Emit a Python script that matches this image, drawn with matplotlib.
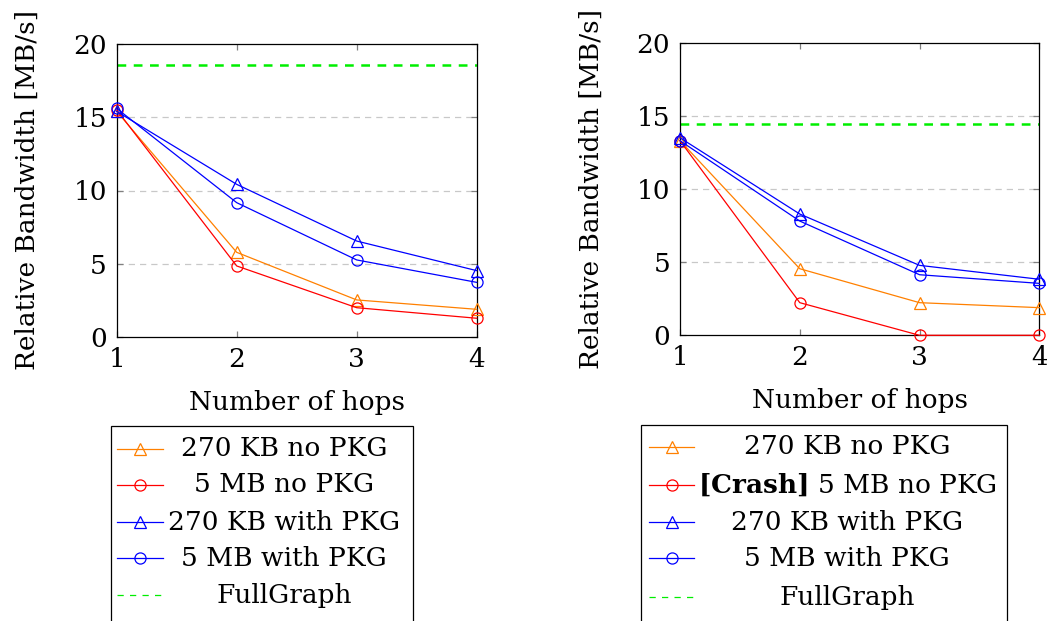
import matplotlib
matplotlib.use("Agg")
import matplotlib.pyplot as plt
from matplotlib.lines import Line2D
from matplotlib.patches import Rectangle

plt.rcParams['font.family'] = ['DejaVu Serif']
plt.rcParams['mathtext.fontset'] = 'dejavuserif'

hops = [1, 2, 3, 4]

# Left panel
left_270kb_no_pkg = [15.4, 5.78, 2.53, 1.89]
left_5mb_no_pkg = [15.5, 4.85, 2.0, 1.28]
left_270kb_pkg = [15.4, 10.42, 6.55, 4.53]
left_5mb_pkg = [15.6, 9.17, 5.26, 3.73]
left_fullgraph = 18.57

# Right panel
right_270kb_no_pkg = [13.3, 4.55, 2.23, 1.89]
right_5mb_no_pkg = [13.3, 2.23, 0.0, 0.0]
right_270kb_pkg = [13.5, 8.29, 4.78, 3.83]
right_5mb_pkg = [13.3, 7.81, 4.14, 3.55]
right_fullgraph = 14.44

y_ticks = [0, 5, 10, 15, 20]
x_label = "Number of hops"
y_label = "Relative Bandwidth [MB/s]"

left_labels = ["270 KB no PKG", "5 MB no PKG", "270 KB with PKG", "5 MB with PKG", "FullGraph"]
right_labels = ["270 KB no PKG", r"$\mathbf{[Crash]}$ 5 MB no PKG", "270 KB with PKG",
                "5 MB with PKG", "FullGraph"]

ORANGE = "#FF8000"
RED = "#FF0000"
BLUE = "#0000FF"
GREEN = "#00EE00"
GRID = "#C8C8C8"

W, H = 1047, 621
FS = 19

fig = plt.figure(figsize=(W / 100, H / 100), dpi=100)


def fx(px):
    return px / W


def fy(py):
    return 1 - py / H


series_styles = [
    (ORANGE, "^"),
    (RED, "o"),
    (BLUE, "^"),
    (BLUE, "o"),
]


def draw_panel(rect, series, fullgraph):
    ax = fig.add_axes(rect)
    for (color, marker), vals in zip(series_styles, series):
        ax.plot(hops, vals, color=color, lw=0.9, marker=marker, ms=8,
                mfc="none", mec=color, mew=0.9, clip_on=False, zorder=3)
    ax.axhline(fullgraph, color=GREEN, lw=1.8, ls=(0, (3.5, 3)), zorder=2)
    for yv in [5, 10, 15]:
        ax.axhline(yv, color=GRID, lw=0.9, ls=(0, (5, 4)), zorder=1)
    ax.set_xlim(1, 4)
    ax.set_ylim(0, 20)
    ax.set_xticks(hops)
    ax.set_yticks(y_ticks)
    ax.tick_params(direction="in", length=4.5, width=0.9, color="#808080",
                   top=True, right=True, labelsize=FS, pad=7)
    for s in ax.spines.values():
        s.set_linewidth(0.9)
    ax.set_xlabel(x_label, fontsize=FS, labelpad=13)
    ax.set_ylabel(y_label, fontsize=FS, labelpad=24)
    return ax


ax1 = draw_panel([fx(116.7), fy(337), fx(360), 293 / H],
                 [left_270kb_no_pkg, left_5mb_no_pkg, left_270kb_pkg, left_5mb_pkg],
                 left_fullgraph)
ax2 = draw_panel([fx(680), fy(335.3), fx(359.3), 292.6 / H],
                 [right_270kb_no_pkg, right_5mb_no_pkg, right_270kb_pkg, right_5mb_pkg],
                 right_fullgraph)


def draw_legend(box_left, box_right, box_top, h0, h1, text_cx, rows_y, labels):
    fig.add_artist(Rectangle((fx(box_left), fy(H + 20)), fx(box_right - box_left),
                             (H + 20 - box_top) / H, transform=fig.transFigure,
                             fill=False, edgecolor="black", lw=0.9))
    hm = (h0 + h1) / 2
    for i, (label, yy) in enumerate(zip(labels, rows_y)):
        if i < 4:
            color, marker = series_styles[i]
            fig.add_artist(Line2D([fx(h0), fx(h1)], [fy(yy), fy(yy)],
                                  transform=fig.transFigure, color=color, lw=0.9))
            fig.add_artist(Line2D([fx(hm)], [fy(yy)], transform=fig.transFigure,
                                  color=color, marker=marker, ms=8, mfc="none",
                                  mec=color, mew=0.9, ls="none"))
        else:
            fig.add_artist(Line2D([fx(h0), fx(h1)], [fy(yy), fy(yy)],
                                  transform=fig.transFigure, color=GREEN, lw=0.9,
                                  ls=(0, (5, 5))))
        fig.text(fx(text_cx), fy(yy), label, fontsize=FS, ha="center", va="center")


draw_legend(111, 413, 426, 117, 163, 284, [449, 485, 522, 558, 595], left_labels)
draw_legend(641, 1007, 425, 649, 694, 847, [447, 485, 522, 558, 597], right_labels)

fig.savefig("out.png", dpi=100)
